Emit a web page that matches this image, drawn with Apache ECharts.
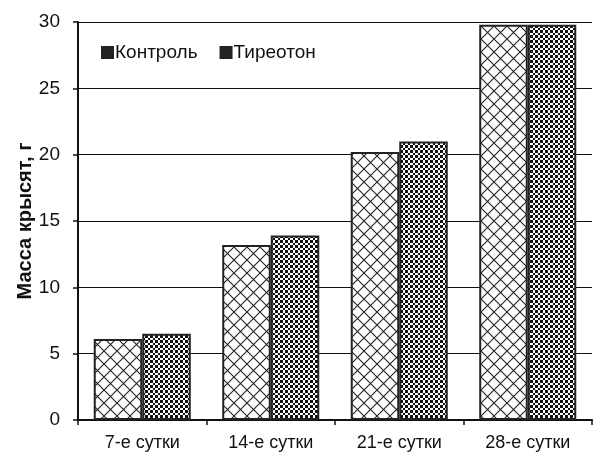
<!DOCTYPE html>
<html>
<head>
<meta charset="utf-8">
<script src="https://cdn.jsdelivr.net/npm/echarts@6/dist/echarts.min.js"></script>
<style>
  html, body { margin: 0; padding: 0; background: #fff; }
  #chart { width: 593px; height: 452px; }
</style>
</head>
<body>
<div id="chart"></div>
<script>
const categories = ["7-е сутки", "14-е сутки", "21-е сутки", "28-е сутки"];
const controlValues = [6.1, 13.2, 20.2, 29.8];
const thyreotonValues = [6.5, 13.9, 21.0, 29.8];
const seriesNames = ["Контроль", "Тиреотон"];

// cross-hatch pattern (diagonal lattice)
function makeLattice() {
  const c = document.createElement("canvas");
  c.width = 13; c.height = 13;
  const ctx = c.getContext("2d");
  ctx.fillStyle = "#fff";
  ctx.fillRect(0, 0, 13, 13);
  ctx.strokeStyle = "#222";
  ctx.lineWidth = 1.1;
  ctx.beginPath();
  ctx.moveTo(0, 0); ctx.lineTo(13, 13);
  ctx.moveTo(13, 0); ctx.lineTo(0, 13);
  ctx.stroke();
  return c;
}

// checkerboard pattern
function makeChecker() {
  const c = document.createElement("canvas");
  c.width = 5; c.height = 5;
  const ctx = c.getContext("2d");
  ctx.fillStyle = "#fff";
  ctx.fillRect(0, 0, 5, 5);
  ctx.fillStyle = "#111";
  ctx.fillRect(0, 0, 3, 3);
  ctx.fillRect(3, 3, 2, 2);
  return c;
}

const chart = echarts.init(document.getElementById("chart"));
const font = "'Liberation Sans', Arial, sans-serif";

chart.setOption({
  animation: false,
  textStyle: { fontFamily: font },
  grid: { left: 78, right: 1, top: 22, bottom: 31 },
  legend: {
    left: 96,
    top: 38,
    itemWidth: 11,
    itemHeight: 11,
    itemGap: 22,
    textStyle: { fontSize: 19, color: "#111", fontFamily: font, padding: [0, 0, 0, -3] },
    data: [
      { name: seriesNames[0], icon: "rect", itemStyle: { color: "#222", borderColor: "#222" } },
      { name: seriesNames[1], icon: "rect", itemStyle: { color: "#222", borderColor: "#222" } }
    ]
  },
  xAxis: {
    type: "category",
    data: categories,
    axisLine: { lineStyle: { color: "#111", width: 2 } },
    axisTick: { show: true, alignWithLabel: false, length: 5, lineStyle: { color: "#111", width: 1.5 } },
    axisLabel: { fontSize: 18, color: "#111", margin: 14, fontFamily: font },
    splitLine: { show: false }
  },
  yAxis: {
    type: "value",
    min: 0,
    max: 30,
    interval: 5,
    name: "Масса крысят, г",
    nameLocation: "middle",
    nameGap: 43,
    nameMoveOverlap: false,
    nameTextStyle: { fontSize: 20, fontWeight: "bold", color: "#111", fontFamily: font },
    axisLine: { show: true, lineStyle: { color: "#111", width: 2 } },
    axisTick: { show: true, length: 5, lineStyle: { color: "#111", width: 1.5 } },
    axisLabel: { fontSize: 19, color: "#111", margin: 18, fontFamily: font },
    splitLine: { lineStyle: { color: "#111", width: 1 } }
  },
  series: [
    {
      name: seriesNames[0],
      type: "bar",
      data: controlValues,
      barGap: "0%",
      barCategoryGap: "24.5%",
      itemStyle: {
        color: { image: makeLattice(), repeat: "repeat" },
        borderColor: "#222",
        borderWidth: 2
      }
    },
    {
      name: seriesNames[1],
      type: "bar",
      data: thyreotonValues,
      barGap: "0%",
      barCategoryGap: "24.5%",
      itemStyle: {
        color: { image: makeChecker(), repeat: "repeat" },
        borderColor: "#222",
        borderWidth: 2
      }
    }
  ]
});
</script>
</body>
</html>
